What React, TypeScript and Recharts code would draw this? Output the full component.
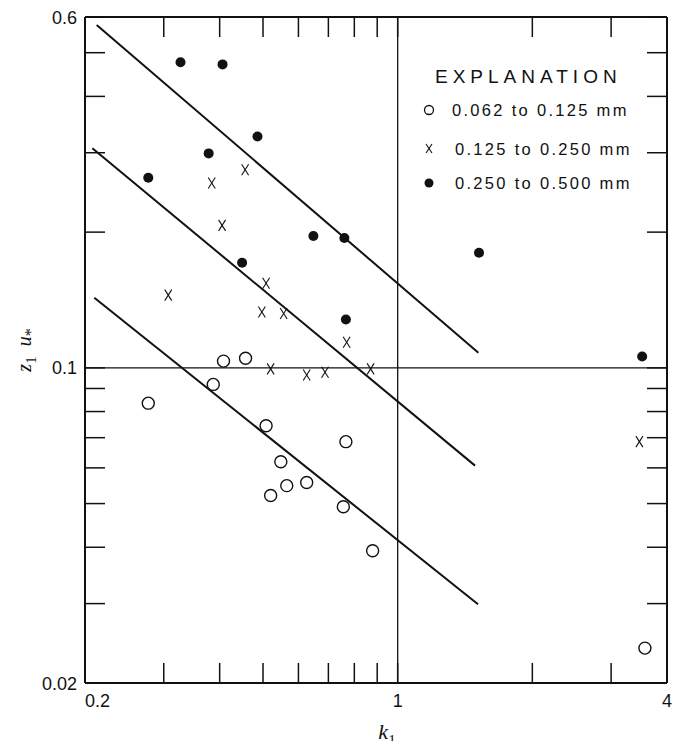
import React from 'react';
import { ScatterChart, Scatter, XAxis, YAxis, ReferenceLine } from 'recharts';

// k1 tick positions and the ones that carry a label
const xTicks = [0.2, 0.3, 0.4, 0.5, 0.6, 0.7, 0.8, 0.9, 1, 2, 3, 4];
const xLabelled = [0.2, 1, 4];
// z1/u* tick positions and labelled ones
const yTicks = [0.02, 0.03, 0.04, 0.05, 0.06, 0.07, 0.08, 0.09, 0.1, 0.2, 0.3, 0.4, 0.5, 0.6];
const yLabelled = [0.02, 0.1, 0.6];

// 0.062 to 0.125 mm (open circles)
const fineSand = [
  { k: 0.277, z: 0.0835 },
  { k: 0.387, z: 0.0919 },
  { k: 0.408, z: 0.1035 },
  { k: 0.457, z: 0.105 },
  { k: 0.508, z: 0.0744 },
  { k: 0.766, z: 0.0686 },
  { k: 0.548, z: 0.0619 },
  { k: 0.565, z: 0.0548 },
  { k: 0.626, z: 0.0557 },
  { k: 0.52, z: 0.0521 },
  { k: 0.756, z: 0.0492 },
  { k: 0.879, z: 0.0393 },
  { k: 3.57, z: 0.0239 },
];

// 0.125 to 0.250 mm (x)
const mediumSand = [
  { k: 0.456, z: 0.275 },
  { k: 0.384, z: 0.257 },
  { k: 0.405, z: 0.207 },
  { k: 0.508, z: 0.154 },
  { k: 0.307, z: 0.145 },
  { k: 0.497, z: 0.133 },
  { k: 0.556, z: 0.132 },
  { k: 0.52, z: 0.0995 },
  { k: 0.769, z: 0.114 },
  { k: 0.626, z: 0.0964 },
  { k: 0.688, z: 0.0978 },
  { k: 0.87, z: 0.0995 },
  { k: 3.47, z: 0.0686 },
];

// 0.250 to 0.500 mm (filled dots)
const coarseSand = [
  { k: 0.327, z: 0.476 },
  { k: 0.406, z: 0.471 },
  { k: 0.486, z: 0.326 },
  { k: 0.378, z: 0.299 },
  { k: 0.277, z: 0.264 },
  { k: 0.648, z: 0.196 },
  { k: 0.76, z: 0.194 },
  { k: 0.449, z: 0.171 },
  { k: 1.52, z: 0.18 },
  { k: 3.52, z: 0.106 },
  { k: 0.766, z: 0.128 },
];

// fitted lines, one per size class (end points)
const upperLine = [{ k: 0.2124, z: 0.576 }, { k: 1.515, z: 0.108 }];
const middleLine = [{ k: 0.2077, z: 0.307 }, { k: 1.489, z: 0.0607 }];
const lowerLine = [{ k: 0.2098, z: 0.143 }, { k: 1.512, z: 0.0299 }];
const fitLines = [upperLine, middleLine, lowerLine];

const legendTitle = 'EXPLANATION';
const legendNames = ['0.062 to 0.125 mm', '0.125 to 0.250 mm', '0.250 to 0.500 mm'];

const INK = '#111';
const numFont = '"Liberation Sans", Arial, sans-serif';
const serif = '"Liberation Serif", "Times New Roman", serif';
const TICK = 20;

const BottomTick = (props: any) => {
  const { x, y, payload } = props;
  const v = payload.value;
  return (
    <g>
      <line x1={x} y1={y} x2={x} y2={y - TICK} stroke={INK} strokeWidth={1.5} />
      {xLabelled.includes(v) && (
        <text
          x={x}
          y={y + 24}
          textAnchor={v === 0.2 ? 'start' : 'middle'}
          fontFamily={numFont}
          fontSize={18}
          fill={INK}
        >
          {String(v)}
        </text>
      )}
    </g>
  );
};

const TopTick = (props: any) => {
  const { x, y } = props;
  return <line x1={x} y1={y} x2={x} y2={y + TICK} stroke={INK} strokeWidth={1.5} />;
};

const LeftTick = (props: any) => {
  const { x, y, payload } = props;
  const v = payload.value;
  return (
    <g>
      <line x1={x} y1={y} x2={x + TICK} y2={y} stroke={INK} strokeWidth={1.5} />
      {yLabelled.includes(v) && (
        <text x={x - 8} y={y + 6.5} textAnchor="end" fontFamily={numFont} fontSize={18} fill={INK}>
          {String(v)}
        </text>
      )}
    </g>
  );
};

const RightTick = (props: any) => {
  const { x, y } = props;
  return <line x1={x} y1={y} x2={x - TICK} y2={y} stroke={INK} strokeWidth={1.5} />;
};

const OpenCircle = (p: any) => (
  <circle cx={p.cx} cy={p.cy} r={6} fill="none" stroke={INK} strokeWidth={1.4} />
);
const Dot = (p: any) => <circle cx={p.cx} cy={p.cy} r={5} fill={INK} />;
const Cross = (p: any) => (
  <g stroke={INK} strokeWidth={1.1}>
    <line x1={p.cx - 3.5} y1={p.cy - 5.5} x2={p.cx + 3.5} y2={p.cy + 5.5} />
    <line x1={p.cx + 3.5} y1={p.cy - 5.5} x2={p.cx - 3.5} y2={p.cy + 5.5} />
  </g>
);

const legendRows = [
  { top: 102, left: 444, icon: <circle cx={8} cy={8} r={4.5} fill="none" stroke={INK} strokeWidth={1.3} /> },
  {
    top: 141,
    left: 447,
    icon: (
      <g stroke={INK} strokeWidth={1.1}>
        <line x1={5} y1={3} x2={11} y2={12} />
        <line x1={11} y1={3} x2={5} y2={12} />
      </g>
    ),
  },
  { top: 175, left: 447, icon: <circle cx={8} cy={8} r={4.5} fill={INK} /> },
];

export default function App() {
  return (
    <div style={{ position: 'relative', width: 672, height: 733, background: '#fff' }}>
      <ScatterChart width={672} height={733} margin={{ top: 8, right: 12, bottom: 0, left: 0 }}>
        <XAxis
          dataKey="k"
          type="number"
          scale="log"
          domain={[0.2, 4]}
          allowDataOverflow
          ticks={xTicks}
          interval={0}
          tick={<BottomTick />}
          tickSize={0}
          tickMargin={0}
          tickLine={false}
          height={58}
          axisLine={{ stroke: INK, strokeWidth: 2 }}
        />
        <XAxis
          xAxisId="top"
          orientation="top"
          dataKey="k"
          type="number"
          scale="log"
          domain={[0.2, 4]}
          allowDataOverflow
          ticks={xTicks}
          interval={0}
          tick={<TopTick />}
          tickSize={0}
          tickMargin={0}
          tickLine={false}
          height={1}
          axisLine={{ stroke: INK, strokeWidth: 2 }}
        />
        <YAxis
          dataKey="z"
          type="number"
          scale="log"
          domain={[0.02, 0.6]}
          allowDataOverflow
          ticks={yTicks}
          interval={0}
          tick={<LeftTick />}
          tickSize={0}
          tickMargin={0}
          tickLine={false}
          width={77}
          axisLine={{ stroke: INK, strokeWidth: 2 }}
        />
        <YAxis
          yAxisId="right"
          orientation="right"
          dataKey="z"
          type="number"
          scale="log"
          domain={[0.02, 0.6]}
          allowDataOverflow
          ticks={yTicks}
          interval={0}
          tick={<RightTick />}
          tickSize={0}
          tickMargin={0}
          tickLine={false}
          width={1}
          axisLine={{ stroke: INK, strokeWidth: 2 }}
        />
        <ReferenceLine x={1} stroke={INK} strokeWidth={1.3} />
        <ReferenceLine y={0.1} stroke={INK} strokeWidth={1.3} />
        {fitLines.map((seg, i) => (
          <ReferenceLine
            key={i}
            segment={[
              { x: seg[0].k, y: seg[0].z },
              { x: seg[1].k, y: seg[1].z },
            ]}
            stroke={INK}
            strokeWidth={2}
          />
        ))}
        <Scatter name={legendNames[0]} data={fineSand} shape={OpenCircle} isAnimationActive={false} />
        <Scatter name={legendNames[1]} data={mediumSand} shape={Cross} isAnimationActive={false} />
        <Scatter name={legendNames[2]} data={coarseSand} shape={Dot} isAnimationActive={false} />
        <Scatter xAxisId="top" yAxisId="right" data={[]} isAnimationActive={false} />
      </ScatterChart>

      {/* explanation box */}
      <div
        style={{
          position: 'absolute',
          left: 427,
          top: 57,
          fontFamily: numFont,
          fontSize: 19,
          letterSpacing: 5,
          color: INK,
          lineHeight: '24px',
          whiteSpace: 'nowrap',
        }}
      >
        {legendTitle}
      </div>
      {legendRows.map((r, i) => (
        <div
          key={i}
          style={{
            position: 'absolute',
            left: 413,
            top: r.top - 10,
            height: 20,
            display: 'flex',
            alignItems: 'center',
            whiteSpace: 'nowrap',
          }}
        >
          <svg width={16} height={16} style={{ marginRight: r.left - 413 - 16 }}>
            {r.icon}
          </svg>
          <span style={{ fontFamily: numFont, fontSize: 16.5, letterSpacing: 2.3, color: INK, lineHeight: '20px' }}>
            {legendNames[i]}
          </span>
        </div>
      ))}

      {/* axis titles */}
      <div
        style={{
          position: 'absolute',
          left: 18,
          top: 342,
          transform: 'translate(-50%, -50%) rotate(-90deg)',
          fontFamily: serif,
          fontSize: 20,
          color: INK,
          whiteSpace: 'nowrap',
        }}
      >
        <i>z</i>
        <sub style={{ fontSize: 15 }}>1</sub>
        {'\u2002'}
        <i>u</i>
        <sub style={{ fontSize: 16 }}>*</sub>
      </div>
      <div
        style={{
          position: 'absolute',
          left: 379,
          top: 726,
          transform: 'translate(-50%, -50%)',
          fontFamily: serif,
          fontSize: 22,
          color: INK,
          whiteSpace: 'nowrap',
        }}
      >
        <i>k</i>
        <sub style={{ fontSize: 15 }}>1</sub>
      </div>
    </div>
  );
}
